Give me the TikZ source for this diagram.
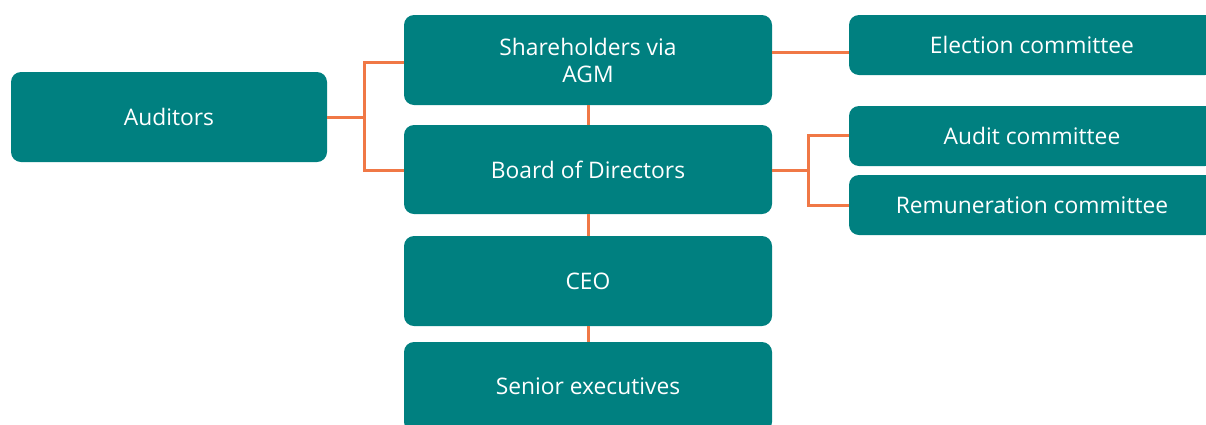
\documentclass[tikz,border=0pt]{standalone}
\usepackage{fontspec}
\setmainfont{Open Sans}
\definecolor{teal1}{RGB}{0,128,128}
\definecolor{orng}{RGB}{240,120,70}
\begin{document}
\begin{tikzpicture}[x=1pt,y=-1pt,
  box/.style={fill=teal1,rounded corners=10pt,text=white,font=\fontsize{22.8}{27}\selectfont,align=center,inner sep=0pt},
  link/.style={draw=orng,line width=3pt}]
\useasboundingbox (0,0) rectangle (1206,424);
\clip (0,0) rectangle (1206,424);
\node[box,minimum width=316pt,minimum height=90pt] (aud) at (169,117) {Auditors};
\node[box,minimum width=368pt,minimum height=90pt] (sh) at (588,60) {Shareholders via\\AGM};
\node[box,minimum width=368pt,minimum height=89pt] (bod) at (588,169.5) {Board of Directors};
\node[box,minimum width=368pt,minimum height=90pt] (ceo) at (588,281) {CEO};
\node[box,minimum width=368pt,minimum height=90pt] (sen) at (588,387) {};
\node[text=white,font=\fontsize{22.8}{27}\selectfont] (sent) at (588,386) {Senior executives};
\node[box,minimum width=366pt,minimum height=60pt] (ele) at (1032,45) {Election committee};
\node[box,minimum width=366pt,minimum height=60pt] (adc) at (1032,136) {Audit committee};
\node[box,minimum width=366pt,minimum height=60pt] (rem) at (1032,205) {Remuneration committee};
\coordinate (j1) at (364,117);
\coordinate (j2) at (808,170);
\draw[link] (aud.east) -- (j1);
\draw[link] (sh.west |- 0,62) -| (j1);
\draw[link] (bod.west |- 0,170) -| (j1);
\draw[link] (sh.east |- 0,52) -- (ele.west |- 0,52);
\draw[link] (bod.east |- 0,170) -- (j2);
\draw[link] (adc.west |- 0,135) -| (j2);
\draw[link] (rem.west |- 0,205) -| (j2);
\draw[link] (sh.south) -- (bod.north);
\draw[link] (bod.south) -- (ceo.north);
\draw[link] (ceo.south) -- (sen.north);
\end{tikzpicture}
\end{document}
